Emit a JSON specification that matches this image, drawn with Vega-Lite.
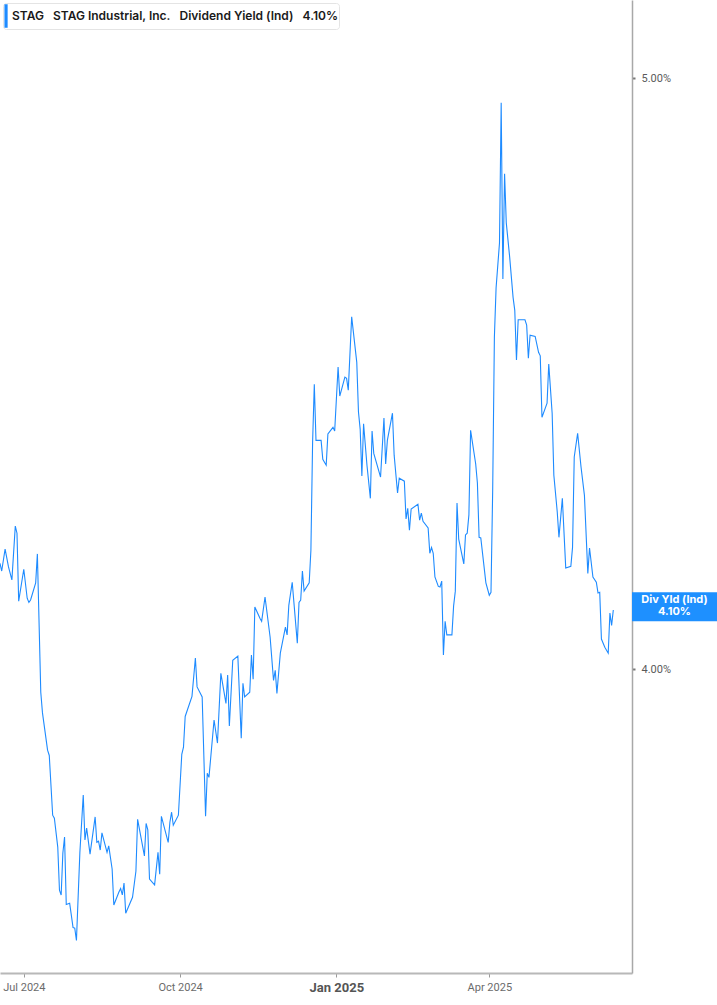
{
  "$schema": "https://vega.github.io/schema/vega-lite/v6.json",
  "width": 632,
  "height": 973,
  "autosize": {"type": "none"},
  "padding": {"left": 0, "top": 0, "right": 85, "bottom": 32},
  "background": "white",
  "config": {
    "view": {"stroke": null},
    "font": "Roboto",
    "axis": {"grid": false}
  },
  "data": {
    "values": [
      {"date": "2024-06-17", "yield": 4.179},
      {"date": "2024-06-18", "yield": 4.166},
      {"date": "2024-06-20", "yield": 4.203},
      {"date": "2024-06-22", "yield": 4.173},
      {"date": "2024-06-24", "yield": 4.151},
      {"date": "2024-06-26", "yield": 4.242},
      {"date": "2024-06-27", "yield": 4.230},
      {"date": "2024-06-28", "yield": 4.115},
      {"date": "2024-07-01", "yield": 4.169},
      {"date": "2024-07-03", "yield": 4.120},
      {"date": "2024-07-04", "yield": 4.113},
      {"date": "2024-07-05", "yield": 4.117},
      {"date": "2024-07-08", "yield": 4.146},
      {"date": "2024-07-09", "yield": 4.195},
      {"date": "2024-07-11", "yield": 3.961},
      {"date": "2024-07-12", "yield": 3.926},
      {"date": "2024-07-15", "yield": 3.863},
      {"date": "2024-07-16", "yield": 3.854},
      {"date": "2024-07-18", "yield": 3.753},
      {"date": "2024-07-19", "yield": 3.748},
      {"date": "2024-07-21", "yield": 3.699},
      {"date": "2024-07-22", "yield": 3.626},
      {"date": "2024-07-23", "yield": 3.618},
      {"date": "2024-07-24", "yield": 3.689},
      {"date": "2024-07-25", "yield": 3.716},
      {"date": "2024-07-26", "yield": 3.602},
      {"date": "2024-07-28", "yield": 3.604},
      {"date": "2024-07-30", "yield": 3.563},
      {"date": "2024-07-31", "yield": 3.562},
      {"date": "2024-08-01", "yield": 3.541},
      {"date": "2024-08-03", "yield": 3.689},
      {"date": "2024-08-05", "yield": 3.787},
      {"date": "2024-08-06", "yield": 3.711},
      {"date": "2024-08-07", "yield": 3.731},
      {"date": "2024-08-09", "yield": 3.687},
      {"date": "2024-08-12", "yield": 3.750},
      {"date": "2024-08-13", "yield": 3.707},
      {"date": "2024-08-14", "yield": 3.709},
      {"date": "2024-08-15", "yield": 3.694},
      {"date": "2024-08-16", "yield": 3.723},
      {"date": "2024-08-19", "yield": 3.690},
      {"date": "2024-08-20", "yield": 3.701},
      {"date": "2024-08-22", "yield": 3.662},
      {"date": "2024-08-23", "yield": 3.601},
      {"date": "2024-08-26", "yield": 3.623},
      {"date": "2024-08-27", "yield": 3.629},
      {"date": "2024-08-28", "yield": 3.618},
      {"date": "2024-08-29", "yield": 3.638},
      {"date": "2024-08-30", "yield": 3.587},
      {"date": "2024-09-03", "yield": 3.614},
      {"date": "2024-09-05", "yield": 3.658},
      {"date": "2024-09-06", "yield": 3.746},
      {"date": "2024-09-10", "yield": 3.684},
      {"date": "2024-09-11", "yield": 3.739},
      {"date": "2024-09-12", "yield": 3.728},
      {"date": "2024-09-13", "yield": 3.645},
      {"date": "2024-09-16", "yield": 3.635},
      {"date": "2024-09-18", "yield": 3.690},
      {"date": "2024-09-19", "yield": 3.653},
      {"date": "2024-09-20", "yield": 3.751},
      {"date": "2024-09-24", "yield": 3.707},
      {"date": "2024-09-25", "yield": 3.741},
      {"date": "2024-09-26", "yield": 3.758},
      {"date": "2024-09-27", "yield": 3.736},
      {"date": "2024-09-30", "yield": 3.753},
      {"date": "2024-10-02", "yield": 3.856},
      {"date": "2024-10-03", "yield": 3.868},
      {"date": "2024-10-04", "yield": 3.920},
      {"date": "2024-10-08", "yield": 3.954},
      {"date": "2024-10-10", "yield": 4.019},
      {"date": "2024-10-11", "yield": 3.970},
      {"date": "2024-10-14", "yield": 3.953},
      {"date": "2024-10-16", "yield": 3.751},
      {"date": "2024-10-17", "yield": 3.824},
      {"date": "2024-10-18", "yield": 3.817},
      {"date": "2024-10-21", "yield": 3.914},
      {"date": "2024-10-23", "yield": 3.875},
      {"date": "2024-10-25", "yield": 3.993},
      {"date": "2024-10-28", "yield": 3.942},
      {"date": "2024-10-29", "yield": 3.990},
      {"date": "2024-10-30", "yield": 3.904},
      {"date": "2024-11-01", "yield": 4.015},
      {"date": "2024-11-04", "yield": 4.022},
      {"date": "2024-11-06", "yield": 3.883},
      {"date": "2024-11-07", "yield": 3.976},
      {"date": "2024-11-08", "yield": 3.953},
      {"date": "2024-11-11", "yield": 3.961},
      {"date": "2024-11-12", "yield": 4.024},
      {"date": "2024-11-13", "yield": 3.983},
      {"date": "2024-11-14", "yield": 4.105},
      {"date": "2024-11-17", "yield": 4.086},
      {"date": "2024-11-18", "yield": 4.081},
      {"date": "2024-11-20", "yield": 4.122},
      {"date": "2024-11-23", "yield": 4.054},
      {"date": "2024-11-25", "yield": 3.981},
      {"date": "2024-11-26", "yield": 3.998},
      {"date": "2024-11-27", "yield": 3.959},
      {"date": "2024-11-29", "yield": 4.027},
      {"date": "2024-12-02", "yield": 4.071},
      {"date": "2024-12-03", "yield": 4.058},
      {"date": "2024-12-04", "yield": 4.108},
      {"date": "2024-12-06", "yield": 4.147},
      {"date": "2024-12-09", "yield": 4.044},
      {"date": "2024-12-10", "yield": 4.113},
      {"date": "2024-12-11", "yield": 4.117},
      {"date": "2024-12-12", "yield": 4.166},
      {"date": "2024-12-13", "yield": 4.132},
      {"date": "2024-12-16", "yield": 4.146},
      {"date": "2024-12-17", "yield": 4.201},
      {"date": "2024-12-18", "yield": 4.384},
      {"date": "2024-12-19", "yield": 4.482},
      {"date": "2024-12-20", "yield": 4.387},
      {"date": "2024-12-23", "yield": 4.387},
      {"date": "2024-12-24", "yield": 4.355},
      {"date": "2024-12-26", "yield": 4.345},
      {"date": "2024-12-27", "yield": 4.398},
      {"date": "2024-12-30", "yield": 4.409},
      {"date": "2024-12-31", "yield": 4.403},
      {"date": "2025-01-02", "yield": 4.511},
      {"date": "2025-01-03", "yield": 4.462},
      {"date": "2025-01-06", "yield": 4.494},
      {"date": "2025-01-07", "yield": 4.492},
      {"date": "2025-01-08", "yield": 4.472},
      {"date": "2025-01-10", "yield": 4.596},
      {"date": "2025-01-13", "yield": 4.519},
      {"date": "2025-01-14", "yield": 4.435},
      {"date": "2025-01-15", "yield": 4.406},
      {"date": "2025-01-16", "yield": 4.327},
      {"date": "2025-01-17", "yield": 4.415},
      {"date": "2025-01-19", "yield": 4.345},
      {"date": "2025-01-21", "yield": 4.289},
      {"date": "2025-01-22", "yield": 4.403},
      {"date": "2025-01-23", "yield": 4.365},
      {"date": "2025-01-27", "yield": 4.325},
      {"date": "2025-01-29", "yield": 4.425},
      {"date": "2025-01-30", "yield": 4.347},
      {"date": "2025-01-31", "yield": 4.387},
      {"date": "2025-02-03", "yield": 4.433},
      {"date": "2025-02-04", "yield": 4.362},
      {"date": "2025-02-06", "yield": 4.298},
      {"date": "2025-02-07", "yield": 4.323},
      {"date": "2025-02-10", "yield": 4.318},
      {"date": "2025-02-11", "yield": 4.254},
      {"date": "2025-02-12", "yield": 4.272},
      {"date": "2025-02-13", "yield": 4.235},
      {"date": "2025-02-14", "yield": 4.271},
      {"date": "2025-02-18", "yield": 4.279},
      {"date": "2025-02-19", "yield": 4.252},
      {"date": "2025-02-20", "yield": 4.264},
      {"date": "2025-02-21", "yield": 4.250},
      {"date": "2025-02-24", "yield": 4.239},
      {"date": "2025-02-25", "yield": 4.196},
      {"date": "2025-02-26", "yield": 4.206},
      {"date": "2025-02-27", "yield": 4.196},
      {"date": "2025-02-28", "yield": 4.156},
      {"date": "2025-03-02", "yield": 4.140},
      {"date": "2025-03-03", "yield": 4.139},
      {"date": "2025-03-04", "yield": 4.149},
      {"date": "2025-03-05", "yield": 4.024},
      {"date": "2025-03-06", "yield": 4.081},
      {"date": "2025-03-07", "yield": 4.058},
      {"date": "2025-03-10", "yield": 4.058},
      {"date": "2025-03-11", "yield": 4.107},
      {"date": "2025-03-12", "yield": 4.132},
      {"date": "2025-03-13", "yield": 4.281},
      {"date": "2025-03-14", "yield": 4.220},
      {"date": "2025-03-17", "yield": 4.178},
      {"date": "2025-03-18", "yield": 4.227},
      {"date": "2025-03-19", "yield": 4.230},
      {"date": "2025-03-20", "yield": 4.261},
      {"date": "2025-03-21", "yield": 4.404},
      {"date": "2025-03-24", "yield": 4.347},
      {"date": "2025-03-25", "yield": 4.315},
      {"date": "2025-03-26", "yield": 4.223},
      {"date": "2025-03-27", "yield": 4.222},
      {"date": "2025-03-30", "yield": 4.146},
      {"date": "2025-04-01", "yield": 4.125},
      {"date": "2025-04-02", "yield": 4.130},
      {"date": "2025-04-03", "yield": 4.303},
      {"date": "2025-04-04", "yield": 4.562},
      {"date": "2025-04-05", "yield": 4.645},
      {"date": "2025-04-07", "yield": 4.721},
      {"date": "2025-04-08", "yield": 4.958},
      {"date": "2025-04-09", "yield": 4.660},
      {"date": "2025-04-10", "yield": 4.838},
      {"date": "2025-04-11", "yield": 4.755},
      {"date": "2025-04-13", "yield": 4.697},
      {"date": "2025-04-15", "yield": 4.629},
      {"date": "2025-04-16", "yield": 4.607},
      {"date": "2025-04-17", "yield": 4.523},
      {"date": "2025-04-18", "yield": 4.591},
      {"date": "2025-04-22", "yield": 4.591},
      {"date": "2025-04-23", "yield": 4.582},
      {"date": "2025-04-24", "yield": 4.526},
      {"date": "2025-04-25", "yield": 4.565},
      {"date": "2025-04-28", "yield": 4.563},
      {"date": "2025-04-30", "yield": 4.536},
      {"date": "2025-05-01", "yield": 4.530},
      {"date": "2025-05-02", "yield": 4.426},
      {"date": "2025-05-05", "yield": 4.450},
      {"date": "2025-05-06", "yield": 4.516},
      {"date": "2025-05-08", "yield": 4.433},
      {"date": "2025-05-09", "yield": 4.328},
      {"date": "2025-05-11", "yield": 4.266},
      {"date": "2025-05-12", "yield": 4.223},
      {"date": "2025-05-14", "yield": 4.289},
      {"date": "2025-05-16", "yield": 4.171},
      {"date": "2025-05-19", "yield": 4.174},
      {"date": "2025-05-20", "yield": 4.206},
      {"date": "2025-05-21", "yield": 4.359},
      {"date": "2025-05-23", "yield": 4.399},
      {"date": "2025-05-25", "yield": 4.342},
      {"date": "2025-05-27", "yield": 4.294},
      {"date": "2025-05-29", "yield": 4.162},
      {"date": "2025-05-30", "yield": 4.205},
      {"date": "2025-06-01", "yield": 4.156},
      {"date": "2025-06-03", "yield": 4.147},
      {"date": "2025-06-04", "yield": 4.129},
      {"date": "2025-06-05", "yield": 4.130},
      {"date": "2025-06-06", "yield": 4.051},
      {"date": "2025-06-08", "yield": 4.037},
      {"date": "2025-06-10", "yield": 4.027},
      {"date": "2025-06-11", "yield": 4.095},
      {"date": "2025-06-12", "yield": 4.074},
      {"date": "2025-06-13", "yield": 4.100}
    ]
  },
  "layer": [
    {
      "mark": {"type": "line", "color": "#1E8BFF", "strokeWidth": 1.1},
      "encoding": {
        "x": {
          "field": "date",
          "type": "temporal",
          "scale": {
            "type": "utc",
            "domain": [
              {"year": 2024, "month": 6, "date": 17, "utc": true},
              {"year": 2025, "month": 6, "date": 24, "utc": true}
            ]
          },
          "axis": {
            "title": null,
            "values": [
              {"year": 2024, "month": 7, "date": 1, "utc": true},
              {"year": 2024, "month": 10, "date": 1, "utc": true},
              {"year": 2025, "month": 1, "date": 1, "utc": true},
              {"year": 2025, "month": 4, "date": 1, "utc": true}
            ],
            "labelExpr": "utcFormat(datum.value, '%b %Y')",
            "domainColor": "#b8b8b8",
            "domainWidth": 2,
            "tickColor": "#9a9a9a",
            "tickSize": 4,
            "labelPadding": 4,
            "labelColor": {"condition": {"test": "utcmonth(datum.value) === 0", "value": "#555555"}, "value": "#6b6b6b"},
            "labelFontSize": {"condition": {"test": "utcmonth(datum.value) === 0", "value": 13}, "value": 11},
            "labelFontWeight": {"condition": {"test": "utcmonth(datum.value) === 0", "value": "bold"}, "value": "normal"}
          }
        },
        "y": {
          "field": "yield",
          "type": "quantitative",
          "scale": {"domain": [3.486, 5.132], "zero": false, "nice": false},
          "axis": {
            "orient": "right",
            "title": null,
            "values": [4, 5],
            "labelExpr": "format(datum.value, '.2f') + '%'",
            "domainColor": "#a8a8a8",
            "domainWidth": 1.5,
            "tickColor": "#777777",
            "tickSize": 3,
            "tickWidth": 2,
            "labelPadding": 6,
            "labelColor": "#5a5a5a",
            "labelFontSize": 11
          }
        },
        "color": {
          "datum": "STAG\u00a0\u00a0\u00a0STAG Industrial, Inc.\u00a0\u00a0\u00a0Dividend Yield (Ind)\u00a0\u00a0\u00a04.10%\u00a0\u00a0",
          "scale": {"range": ["#1E8BFF"]},
          "legend": {
            "orient": "top-left",
            "offset": 3,
            "padding": 0,
            "rowPadding": 0,
            "titlePadding": 0,
            "clipHeight": 26,
            "title": null,
            "strokeColor": "#e4e4e4",
            "fillColor": "white",
            "cornerRadius": 3,
            "labelFont": "Inter",
            "labelFontSize": 12,
            "labelFontWeight": 600,
            "labelColor": "#1a1a1a",
            "labelLimit": 0,
            "labelOffset": -21,
            "symbolType": "M-0.92,-0.9L-0.92,0.9",
            "symbolSize": 676,
            "symbolStrokeWidth": 3.2,
            "symbolStrokeColor": "#1E8BFF"
          }
        }
      }
    },
    {
      "data": {"values": [{"label": "Div Yld (Ind)\n4.10%"}]},
      "mark": {"type": "rect", "color": "#1E90FF"},
      "encoding": {
        "x": {"datum": {"year": 2025, "month": 6, "date": 24, "utc": true}, "type": "temporal"},
        "x2": {"datum": {"year": 2025, "month": 8, "date": 14, "utc": true}},
        "y": {"datum": 4.130, "type": "quantitative"},
        "y2": {"datum": 4.081}
      }
    },
    {
      "data": {"values": [{"label": "Div Yld (Ind)\n4.10%"}]},
      "mark": {
        "type": "text",
        "color": "white",
        "font": "Inter",
        "fontSize": 11,
        "fontWeight": "bold",
        "lineBreak": "\n",
        "lineHeight": 12,
        "align": "center",
        "baseline": "middle"
      },
      "encoding": {
        "x": {"datum": {"year": 2025, "month": 7, "date": 19, "utc": true}, "type": "temporal"},
        "y": {"datum": 4.1168, "type": "quantitative"},
        "text": {"field": "label"}
      }
    }
  ]
}
